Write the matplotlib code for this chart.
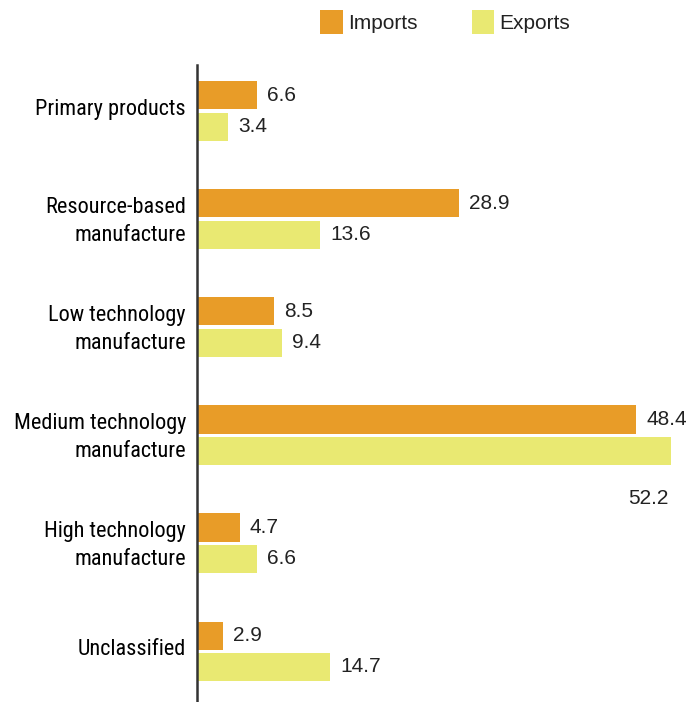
import matplotlib.pyplot as plt
from matplotlib import font_manager as fm
from matplotlib.transforms import ScaledTranslation
import numpy as np

# Data
categories = ['Primary products', 'Resource-based\nmanufacture', 'Low technology\nmanufacture',
              'Medium technology\nmanufacture', 'High technology\nmanufacture', 'Unclassified']
imports = [6.6, 28.9, 8.5, 48.4, 4.7, 2.9]
exports = [3.4, 13.6, 9.4, 52.2, 6.6, 14.7]

c_imp = '#E89C28'
c_exp = '#E9E972'
txt = '#222222'
px = 72 / 100  # points per pixel at dpi 100

# pick a narrow font for the category labels if one is installed
names = {(f.name, f.stretch) for f in fm.fontManager.ttflist}
lab_font = dict(family='Liberation Sans', fontstretch='normal', fontsize=14.5)
for nm in ['Liberation Sans Narrow', 'Roboto Condensed', 'Open Sans Condensed']:
    if any(n == nm for n, s in names):
        lab_font = dict(family=nm, fontstretch='normal', fontsize=16)
        break
else:
    if any(n == 'DejaVu Sans' and s in ('condensed', 'semi-condensed', 600, 700) for n, s in names):
        lab_font = dict(family='DejaVu Sans', fontstretch='condensed', fontsize=15)

fig = plt.figure(figsize=(6.87, 7.02), dpi=100)
ax = fig.add_axes([197 / 687, 0, 1 - 197 / 687, (702 - 65) / 702])

y = np.arange(len(categories))
h = 0.26
off = 0.145
b1 = ax.barh(y - off, imports, height=h, color=c_imp, label='Imports')
b2 = ax.barh(y + off, exports, height=h, color=c_exp, label='Exports')

ax.set_xlim(0, 54)
ax.set_ylim(5.47, -0.426)

for bars, vals in ((b1, imports), (b2, exports)):
    for rect, v in zip(bars, vals):
        yc = rect.get_y() + rect.get_height() / 2
        if v == max(exports) and bars is b2:
            ax.annotate(f'{v}', (v, yc), xytext=(-2 * px, -48 * px), textcoords='offset points',
                        ha='right', va='center', fontsize=15, color=txt, family='Liberation Sans')
        else:
            ax.annotate(f'{v}', (v, yc), xytext=(10 * px, 0), textcoords='offset points',
                        ha='left', va='center', fontsize=15, color=txt, family='Liberation Sans')

ax.set_yticks(y)
ax.set_yticklabels(categories, color='black', linespacing=1.48, **lab_font)
ax.tick_params(axis='y', length=0, pad=8)
# labels sit a little above the group centre in the original
shift = ScaledTranslation(0, 4 / 100, fig.dpi_scale_trans)
for lbl in ax.get_yticklabels():
    lbl.set_transform(lbl.get_transform() + shift)
ax.set_xticks([])
for s in ['top', 'right', 'bottom']:
    ax.spines[s].set_visible(False)
ax.spines['left'].set_color('#333333')
ax.spines['left'].set_linewidth(1.8)

fig.legend(handles=[b1, b2], loc='upper left', bbox_to_anchor=(301 / 687, 1.012), ncol=2,
           frameon=False, handlelength=1.1, handleheight=1.35, handletextpad=0.25,
           columnspacing=2.6, prop={'family': 'Liberation Sans', 'size': 15}, labelcolor=txt)

fig.savefig('out.png', dpi=100)
